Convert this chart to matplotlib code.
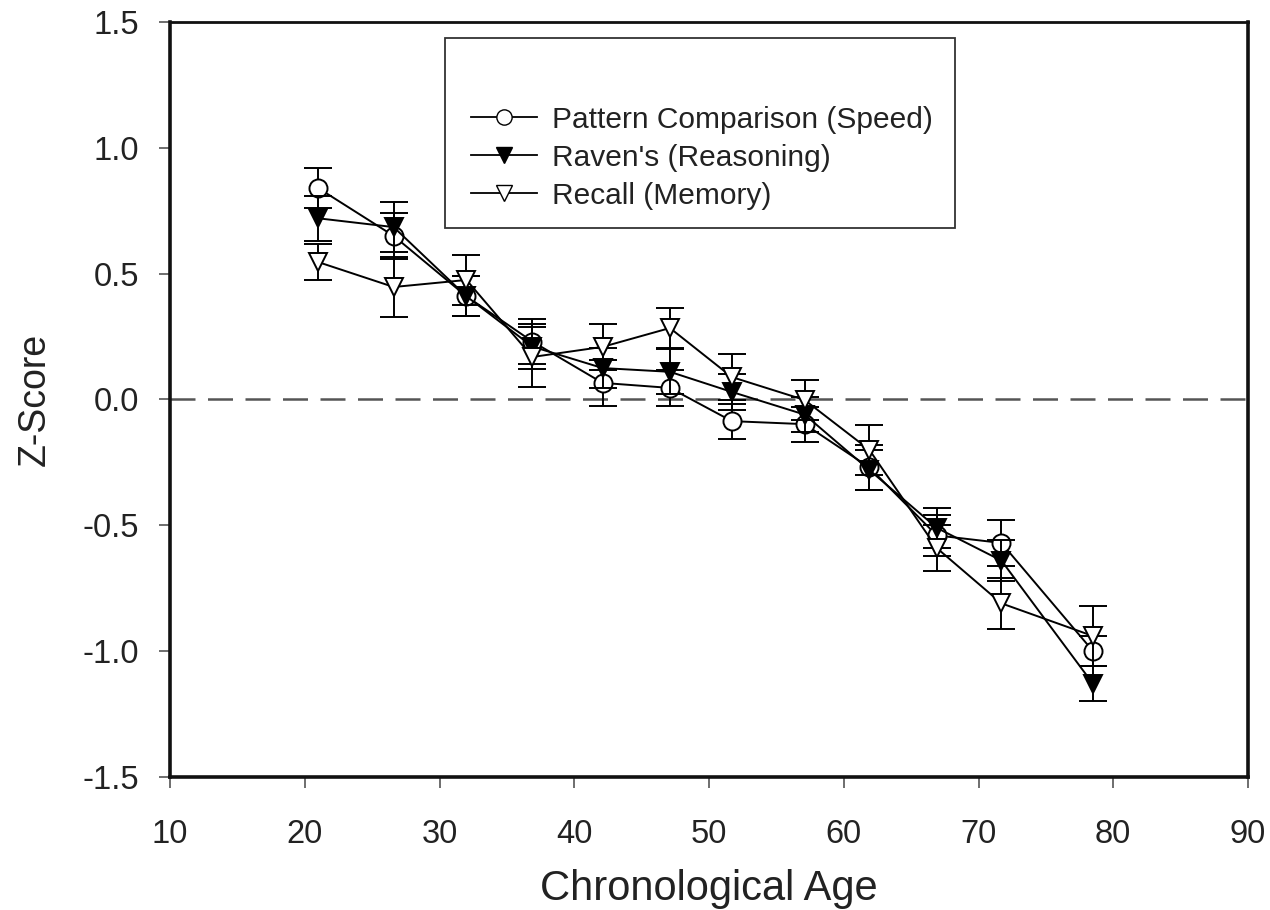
import matplotlib
matplotlib.use("Agg")
import matplotlib.pyplot as plt
from matplotlib.lines import Line2D
from matplotlib.patches import Rectangle

plt.rcParams['font.family'] = ['Liberation Sans', 'DejaVu Sans']

ages = [21.0, 26.6, 32.0, 36.9, 42.1, 47.1, 51.7, 57.1, 61.9, 66.9, 71.7, 78.5]

pattern = [0.84, 0.65, 0.41, 0.23, 0.066, 0.046, -0.086, -0.098, -0.27, -0.54, -0.57, -1.00]
pattern_err = [0.08, 0.09, 0.08, 0.09, 0.09, 0.07, 0.07, 0.07, 0.09, 0.08, 0.09, 0.06]

ravens = [0.72, 0.685, 0.41, 0.21, 0.125, 0.11, 0.03, -0.06, -0.28, -0.51, -0.64, -1.13]
ravens_err = [0.09, 0.10, 0.08, 0.09, 0.08, 0.09, 0.07, 0.07, 0.08, 0.08, 0.08, 0.07]

recall = [0.546, 0.447, 0.475, 0.169, 0.209, 0.284, 0.089, -0.002, -0.20, -0.59, -0.81, -0.94]
recall_err = [0.07, 0.12, 0.10, 0.12, 0.09, 0.08, 0.09, 0.08, 0.10, 0.09, 0.10, 0.12]

labels = ["Pattern Comparison (Speed)", "Raven's (Reasoning)", "Recall (Memory)"]

x_ticks = [10, 20, 30, 40, 50, 60, 70, 80, 90]
y_ticks = [-1.5, -1.0, -0.5, 0.0, 0.5, 1.0, 1.5]

fig = plt.figure(figsize=(12.7, 9.1), dpi=100)
ax = fig.add_axes([170/1270, 1-777/910, (1248-170)/1270, (777-22)/910])

ax.axhline(0, color='#555555', lw=1.8, ls=(0, (10, 5)), zorder=1)

common = dict(color='black', lw=1.4, elinewidth=1.4, capsize=10, capthick=1.4,
              markersize=13, markeredgewidth=1.4, markeredgecolor='black')
ax.errorbar(ages, pattern, yerr=pattern_err, marker='o', markerfacecolor='white', zorder=3, **common)
ax.errorbar(ages, ravens, yerr=ravens_err, marker='v', markerfacecolor='black', zorder=4, **common)
ax.errorbar(ages, recall, yerr=recall_err, marker='v', markerfacecolor='white', zorder=5, **common)

ax.set_xlim(10, 90)
ax.set_ylim(-1.5, 1.5)
ax.set_xticks(x_ticks)
ax.set_xticklabels([str(t) for t in x_ticks])
ax.set_yticks(y_ticks)
ax.set_yticklabels([f"{t:.1f}" for t in y_ticks])

for side in ['left', 'bottom', 'right']:
    ax.spines[side].set_linewidth(2.6)
ax.spines['top'].set_linewidth(2.0)
for s in ax.spines.values():
    s.set_color('#111111')

ax.tick_params(axis='both', direction='out', length=8, width=1.2, color='#555555',
               labelsize=23.5, labelcolor='#222222')
ax.tick_params(axis='x', pad=22)
ax.tick_params(axis='y', pad=14)

ax.set_xlabel("Chronological Age", fontsize=30, color='#222222', labelpad=14)
ax.set_ylabel("Z-Score", fontsize=27, color='#222222', labelpad=22)

# legend frame
frame = Rectangle((445/1270, 1-228/910), (955-445)/1270, (228-38)/910,
                  transform=fig.transFigure, facecolor='white', edgecolor='#333333',
                  lw=1.3, zorder=6)
fig.patches.append(frame)

handles = [
    Line2D([], [], color='black', lw=1.3, marker='o', markersize=11, markerfacecolor='white', markeredgecolor='black'),
    Line2D([], [], color='black', lw=1.3, marker='v', markersize=11, markerfacecolor='black', markeredgecolor='black'),
    Line2D([], [], color='black', lw=1.3, marker='v', markersize=11, markerfacecolor='white', markeredgecolor='black'),
]
leg = fig.legend(handles, labels, loc='upper left', bbox_to_anchor=(450/1270, 1-85/910),
                 frameon=False, fontsize=21.5, handlelength=2.2, handletextpad=0.5,
                 labelspacing=0.33, borderpad=0.2)
for t in leg.get_texts():
    t.set_color('#222222')
leg.set_zorder(7)

fig.savefig("out.png", dpi=100)
